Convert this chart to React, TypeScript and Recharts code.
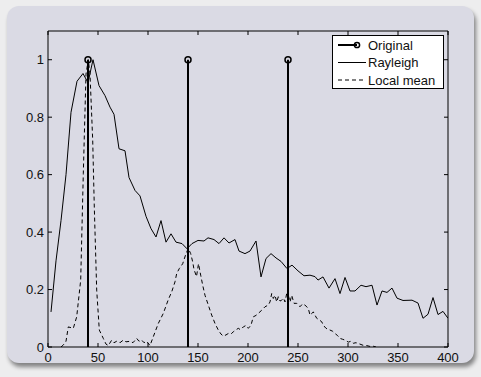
import React from 'react';
import { ComposedChart, Line, XAxis, YAxis } from 'recharts';

const X_TICKS = [0, 50, 100, 150, 200, 250, 300, 350, 400];
const Y_TICKS = [0, 0.2, 0.4, 0.6, 0.8, 1];

const SERIES_NAMES = ['Original', 'Rayleigh', 'Local mean'];

const ORIGINAL_X = [40, 140, 240];
const ORIGINAL_Y = [1, 1, 1];

const RAYLEIGH_X = [3, 8, 13, 18, 23, 29, 35, 40, 45, 51, 57, 62, 66, 71, 77, 81, 87, 92, 98, 103, 108, 113, 118, 123, 128, 134, 139, 144, 150, 156, 160, 166, 171, 176, 181, 187, 191, 197, 202, 208, 213, 218, 223, 228, 233, 239, 244, 250, 256, 262, 267, 270, 275, 281, 287, 292, 297, 302, 307, 313, 318, 324, 329, 334, 339, 344, 349, 355, 364, 370, 375, 380, 385, 390, 395, 400];
const RAYLEIGH_Y = [0.122, 0.3, 0.44, 0.6, 0.817, 0.925, 0.952, 0.92, 1.0, 0.91, 0.875, 0.835, 0.81, 0.69, 0.683, 0.59, 0.545, 0.526, 0.455, 0.412, 0.383, 0.44, 0.365, 0.394, 0.365, 0.36, 0.342, 0.36, 0.371, 0.369, 0.38, 0.374, 0.36, 0.38, 0.362, 0.374, 0.334, 0.325, 0.334, 0.369, 0.244, 0.308, 0.325, 0.31, 0.298, 0.273, 0.285, 0.265, 0.248, 0.25, 0.245, 0.233, 0.244, 0.205, 0.238, 0.186, 0.242, 0.195, 0.195, 0.215, 0.21, 0.215, 0.146, 0.195, 0.19, 0.205, 0.17, 0.162, 0.163, 0.153, 0.1, 0.114, 0.172, 0.113, 0.124, 0.1];

const LOCAL_X = [13, 15.3, 18, 20.3, 25.3, 28.7, 32.7, 35.3, 38, 40.3, 42, 44.7, 46.3, 48.7, 51.3, 55.3, 58, 60.3, 63.7, 66, 68.7, 72, 75.3, 78, 82, 85, 88.7, 91, 93.7, 96, 98.7, 102, 105.3, 110.3, 115.3, 120.3, 123.7, 127, 128.7, 131.3, 134.7, 138, 140.3, 142.7, 144.7, 146, 148.5, 150.5, 152.7, 154.7, 157, 160.3, 163.7, 167, 170.3, 173, 175.3, 178, 180.3, 183, 185.3, 188, 190.3, 192.5, 195.3, 198, 200.3, 203, 205.3, 208, 210.3, 213.7, 217, 220.3, 222, 223.7, 225.3, 227, 228.7, 230.3, 232, 233.7, 235.5, 237, 238.7, 240.3, 242, 243.7, 246, 248.7, 250.5, 252, 254.5, 257, 260.3, 262, 265.3, 268.7, 271, 273.7, 275.3, 278, 282, 284.5, 287, 289.5, 292, 294.5, 297, 300.3, 303, 305.3, 308, 312, 315, 318.7, 322, 325, 328];
const LOCAL_Y = [0, 0.007, 0.02, 0.07, 0.065, 0.105, 0.233, 0.603, 0.95, 1.0, 0.95, 0.72, 0.487, 0.198, 0.059, 0.03, 0.01, 0.005, 0.024, 0.015, 0.02, 0.015, 0.024, 0.018, 0.02, 0.015, 0.03, 0.02, 0.024, 0.015, 0.02, 0.005, 0.036, 0.082, 0.117, 0.165, 0.192, 0.227, 0.256, 0.273, 0.29, 0.325, 0.343, 0.325, 0.296, 0.27, 0.245, 0.29, 0.25, 0.215, 0.18, 0.146, 0.111, 0.082, 0.059, 0.045, 0.038, 0.042, 0.047, 0.045, 0.053, 0.06, 0.065, 0.06, 0.07, 0.075, 0.065, 0.076, 0.105, 0.11, 0.117, 0.128, 0.14, 0.146, 0.157, 0.186, 0.169, 0.18, 0.157, 0.175, 0.16, 0.163, 0.17, 0.157, 0.186, 0.18, 0.157, 0.18, 0.152, 0.152, 0.145, 0.14, 0.15, 0.146, 0.134, 0.111, 0.122, 0.1, 0.095, 0.088, 0.076, 0.065, 0.059, 0.055, 0.047, 0.04, 0.03, 0.027, 0.024, 0.017, 0.02, 0.013, 0.015, 0.01, 0.006, 0.005, 0.002, 0.003, 0];

const FONT = '"Liberation Sans", Arial, Helvetica, sans-serif';
const TEXT = '#111';

const rayleighData = RAYLEIGH_X.map((x, i) => ({ x, y: RAYLEIGH_Y[i] }));
const localData = LOCAL_X.map((x, i) => ({ x, y: LOCAL_Y[i] }));
const stems = ORIGINAL_X.map((x, i) => [
  { x, y: 0 },
  { x, y: ORIGINAL_Y[i] },
]);

const fmt = (v: number) => String(Math.round(v * 100) / 100);

const BottomTick = (props: any) => {
  const { x, y, payload } = props;
  return (
    <g>
      <line x1={x} y1={y} x2={x} y2={y - 4} stroke="#000" strokeWidth={1} />
      <text x={x} y={y + 15} textAnchor="middle" fontSize={13} fontFamily={FONT} fill={TEXT}>
        {fmt(payload.value)}
      </text>
    </g>
  );
};

const TopTick = (props: any) => {
  const { x, y } = props;
  return <line x1={x} y1={y} x2={x} y2={y + 4} stroke="#000" strokeWidth={1} />;
};

const LeftTick = (props: any) => {
  const { x, y, payload } = props;
  return (
    <g>
      <line x1={x} y1={y} x2={x + 4} y2={y} stroke="#000" strokeWidth={1} />
      <text x={x - 4} y={y} dy="0.36em" textAnchor="end" fontSize={13} fontFamily={FONT} fill={TEXT}>
        {fmt(payload.value)}
      </text>
    </g>
  );
};

const RightTick = (props: any) => {
  const { x, y } = props;
  return <line x1={x} y1={y} x2={x - 4} y2={y} stroke="#000" strokeWidth={1} />;
};

const StemDot = (props: any) => {
  const { cx, cy, index } = props;
  if (index !== 1) return <g key={`e${index}`} />;
  return <circle key={`c${index}`} cx={cx} cy={cy} r={3} fill="none" stroke="#000" strokeWidth={1.5} />;
};

const LegendBox = () => {
  const rowTop = [10, 27.5, 45];
  return (
    <div
      style={{
        position: 'absolute',
        left: 332,
        top: 35,
        width: 112,
        height: 54,
        boxSizing: 'border-box',
        background: '#fff',
        border: '1px solid #000',
      }}
    >
      <svg width={112} height={54} style={{ position: 'absolute', left: -1, top: -1 }}>
        <line x1={6} y1={rowTop[0]} x2={25} y2={rowTop[0]} stroke="#000" strokeWidth={2} />
        <circle cx={25} cy={rowTop[0]} r={2.6} fill="none" stroke="#000" strokeWidth={1.5} />
        <line x1={6} y1={rowTop[1]} x2={34} y2={rowTop[1]} stroke="#000" strokeWidth={1} />
        <line x1={6} y1={rowTop[2]} x2={34} y2={rowTop[2]} stroke="#000" strokeWidth={1} strokeDasharray="4 3" />
        {SERIES_NAMES.map((n, i) => (
          <text key={n} x={36} y={rowTop[i]} dy="0.36em" fontSize={13} fontFamily={FONT} fill={TEXT}>
            {n}
          </text>
        ))}
      </svg>
    </div>
  );
};

export default function App() {
  return (
    <div style={{ position: 'absolute', left: 0, top: 0, width: 481, height: 377, background: '#ededee', overflow: 'hidden' }}>
      <div
        style={{
          position: 'absolute',
          left: 7,
          top: 6,
          width: 467,
          height: 357,
          borderRadius: 12,
          background: '#dadae4',
          boxShadow: '2px 4px 4px rgba(0,0,0,0.45)',
        }}
      />
      <div style={{ position: 'absolute', left: 0, top: 0 }}>
        <ComposedChart width={481} height={377} margin={{ top: 30, right: 32, bottom: 0, left: 0 }}>
          <XAxis
            xAxisId="bottom"
            dataKey="x"
            type="number"
            domain={[0, 400]}
            ticks={X_TICKS}
            orientation="bottom"
            height={30}
            tickSize={0}
            tickMargin={0}
            tickLine={false}
            axisLine={{ stroke: '#000', strokeWidth: 1 }}
            tick={<BottomTick />}
            interval={0}
            allowDataOverflow
          />
          <XAxis
            xAxisId="top"
            dataKey="x"
            type="number"
            domain={[0, 400]}
            ticks={X_TICKS}
            orientation="top"
            height={1}
            tickSize={0}
            tickMargin={0}
            tickLine={false}
            axisLine={{ stroke: '#000', strokeWidth: 1 }}
            tick={<TopTick />}
            interval={0}
            allowDataOverflow
          />
          <YAxis
            yAxisId="left"
            type="number"
            domain={[0, 1.1]}
            ticks={Y_TICKS}
            orientation="left"
            width={48}
            tickSize={0}
            tickMargin={0}
            tickLine={false}
            axisLine={{ stroke: '#000', strokeWidth: 1 }}
            tick={<LeftTick />}
            interval={0}
            allowDataOverflow
          />
          <YAxis
            yAxisId="right"
            type="number"
            domain={[0, 1.1]}
            ticks={Y_TICKS}
            orientation="right"
            width={1}
            tickSize={0}
            tickMargin={0}
            tickLine={false}
            axisLine={{ stroke: '#000', strokeWidth: 1 }}
            tick={<RightTick />}
            interval={0}
            allowDataOverflow
          />
          {/* invisible carrier so the mirrored top/right frame axes get a domain */}
          <Line
            xAxisId="top"
            yAxisId="right"
            data={rayleighData}
            dataKey="y"
            stroke="none"
            strokeWidth={0}
            legendType="none"
            dot={false}
            activeDot={false}
            isAnimationActive={false}
          />
          <Line
            xAxisId="bottom"
            yAxisId="left"
            data={localData}
            dataKey="y"
            name={SERIES_NAMES[2]}
            type="linear"
            stroke="#000"
            strokeWidth={1}
            strokeDasharray="4 3"
            dot={false}
            activeDot={false}
            isAnimationActive={false}
          />
          <Line
            xAxisId="bottom"
            yAxisId="left"
            data={rayleighData}
            dataKey="y"
            name={SERIES_NAMES[1]}
            type="linear"
            stroke="#000"
            strokeWidth={1}
            dot={false}
            activeDot={false}
            isAnimationActive={false}
          />
          {stems.map((d, i) => (
            <Line
              key={`stem${i}`}
              xAxisId="bottom"
              yAxisId="left"
              data={d}
              dataKey="y"
              name={SERIES_NAMES[0]}
              type="linear"
              stroke="#000"
              strokeWidth={2}
              dot={<StemDot />}
              activeDot={false}
              isAnimationActive={false}
            />
          ))}
        </ComposedChart>
        <LegendBox />
      </div>
    </div>
  );
}
